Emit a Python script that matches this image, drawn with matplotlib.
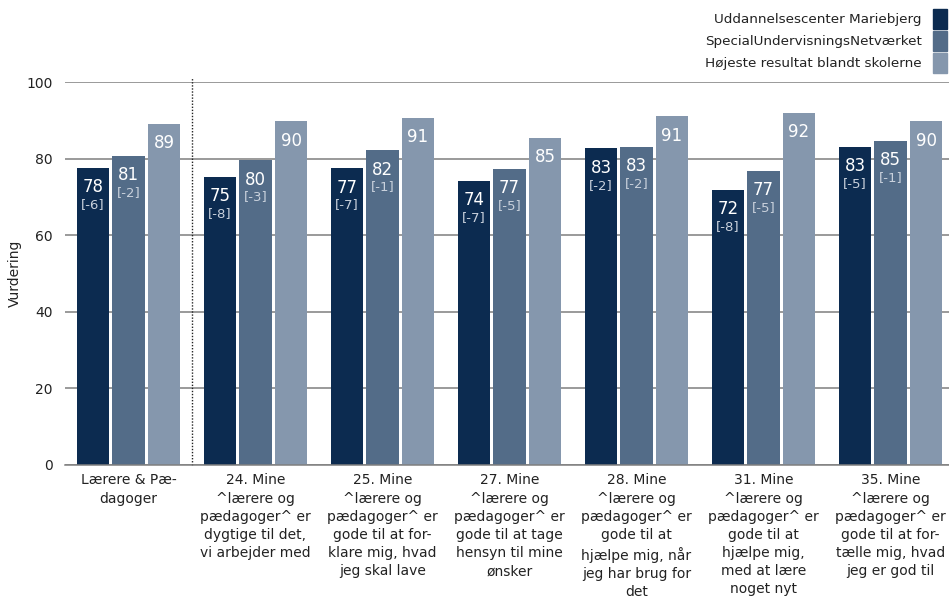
import matplotlib.pyplot as plt
from matplotlib.patches import Rectangle

plt.rcParams['font.family'] = ['DejaVu Sans']

categories = [
    'Lærere & Pæ-\ndagoger',
    '24. Mine\n^lærere og\npædagoger^ er\ndygtige til det,\nvi arbejder med',
    '25. Mine\n^lærere og\npædagoger^ er\ngode til at for-\nklare mig, hvad\njeg skal lave',
    '27. Mine\n^lærere og\npædagoger^ er\ngode til at tage\nhensyn til mine\nønsker',
    '28. Mine\n^lærere og\npædagoger^ er\ngode til at\nhjælpe mig, når\njeg har brug for\ndet',
    '31. Mine\n^lærere og\npædagoger^ er\ngode til at\nhjælpe mig,\nmed at lære\nnoget nyt',
    '35. Mine\n^lærere og\npædagoger^ er\ngode til at for-\ntælle mig, hvad\njeg er god til',
]
series_names = ['Uddannelsescenter Mariebjerg',
                'SpecialUndervisningsNetværket',
                'Højeste resultat blandt skolerne']

# bar heights
mariebjerg = [77.6, 75.2, 77.5, 74.2, 82.7, 71.9, 83.1]
netvaerket = [80.7, 79.6, 82.2, 77.3, 83.1, 76.8, 84.6]
hoejeste = [89.1, 89.8, 90.6, 85.4, 91.1, 91.9, 89.8]

# labels shown on the bars
lbl_mariebjerg = [78, 75, 77, 74, 83, 72, 83]
lbl_netvaerket = [81, 80, 82, 77, 83, 77, 85]
lbl_hoejeste = [89, 90, 91, 85, 91, 92, 90]
diff_mariebjerg = [-6, -8, -7, -7, -2, -8, -5]
diff_netvaerket = [-2, -3, -1, -5, -2, -5, -1]

colors = ['#0c2b50', '#536c88', '#8597ad']

fig = plt.figure(figsize=(9.49, 6.06), dpi=100)
ax = fig.add_axes([65 / 949, 1 - 465 / 606, 889 / 949, 383 / 606])

x = list(range(len(categories)))
offsets = [-0.28, 0.0, 0.28]
width = 0.252
values = [mariebjerg, netvaerket, hoejeste]
labels = [lbl_mariebjerg, lbl_netvaerket, lbl_hoejeste]
diffs = [diff_mariebjerg, diff_netvaerket, None]

for s in range(3):
    xs = [i + offsets[s] for i in x]
    ax.bar(xs, values[s], width=width, color=colors[s], zorder=2)
    for i, xv in enumerate(xs):
        top = values[s][i]
        ax.annotate(str(labels[s][i]), (xv, top), xytext=(0, -14),
                    textcoords='offset points', ha='center', va='center',
                    color='white', fontsize=12, zorder=3)
        if diffs[s] is not None:
            ax.annotate('[%d]' % diffs[s][i], (xv, top), xytext=(0, -26.5),
                        textcoords='offset points', ha='center', va='center',
                        color='#c9d1dc', fontsize=9.5, zorder=3)

ax.set_ylim(0, 100)
ax.set_xlim(-0.5, 6.5)
ax.set_yticks([0, 20, 40, 60, 80, 100])
ax.yaxis.grid(True, color='#7f7f7f', linewidth=1.1, zorder=0)
ax.set_axisbelow(True)
for sp in ['left', 'right', 'top']:
    ax.spines[sp].set_visible(False)
ax.spines['bottom'].set_color('#7f7f7f')
ax.spines['bottom'].set_linewidth(1.1)
ax.tick_params(axis='y', length=0, pad=9, labelsize=10, colors='#222222')
ax.tick_params(axis='x', length=0, pad=6, labelsize=10, colors='#222222')
ax.set_xticks(x)
ax.set_xticklabels(categories, linespacing=1.38)
ax.set_ylabel('Vurdering', fontsize=10, color='#222222')
ax.yaxis.set_label_coords(-43 / 889, 0.5)

# dotted separator after the first group
ax.axvline(0.5, ymin=0, ymax=1.01, color='#222222', linestyle=(0, (1, 1.2)),
           linewidth=1, clip_on=False, zorder=1)

# legend: right aligned text with squares
for k, name in enumerate(series_names):
    y = 1 - (19 + 22 * k) / 606
    fig.text(922 / 949, y, name, ha='right', va='center', fontsize=9.7,
             color='#222222')
    fig.patches.append(Rectangle((933 / 949, y - 10 / 606), 14 / 949, 20 / 606,
                                 transform=fig.transFigure, color=colors[k]))

fig.savefig('out.png', dpi=100)
